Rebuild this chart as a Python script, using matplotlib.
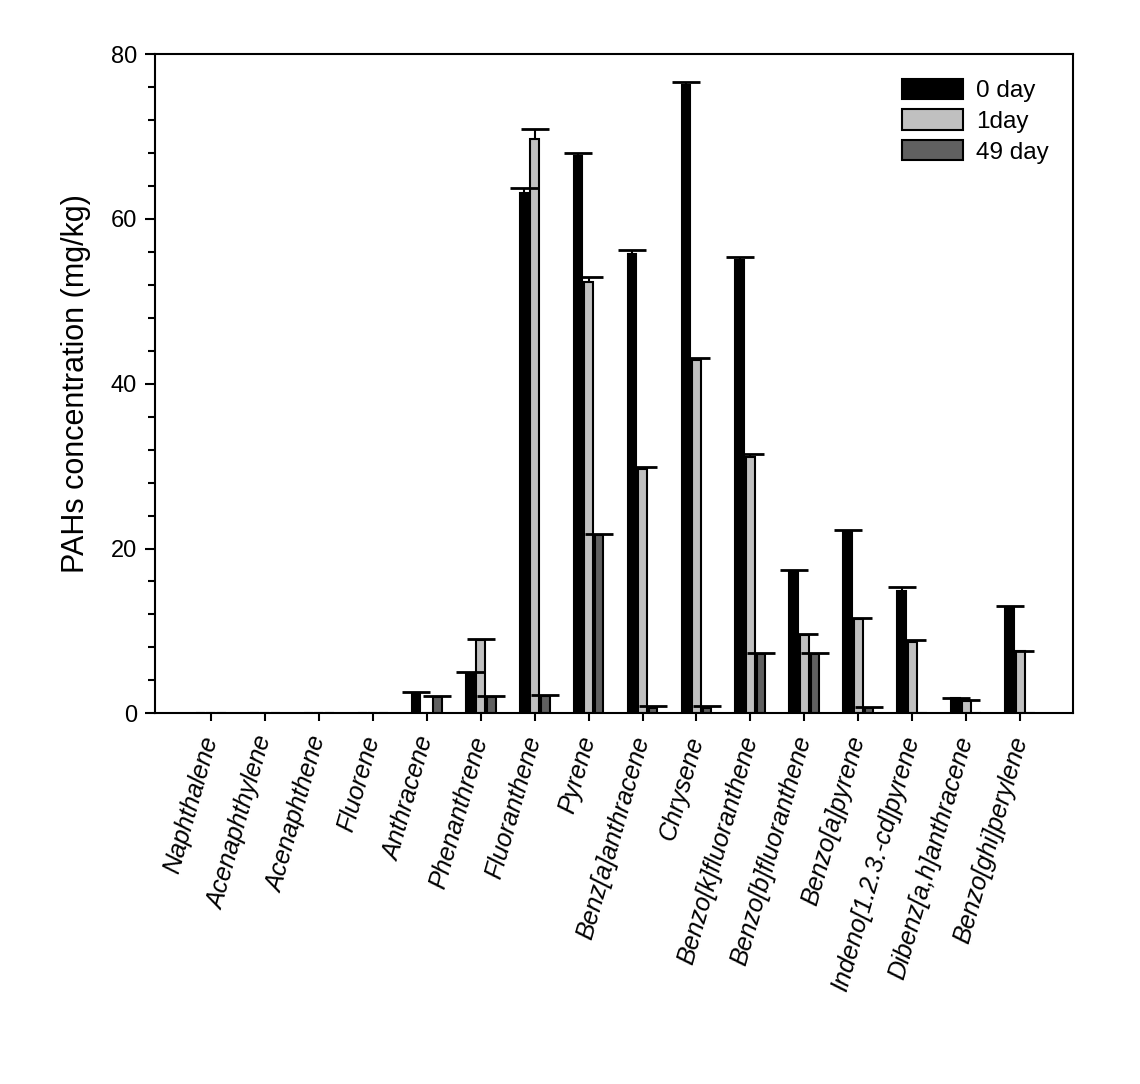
import numpy as np
import matplotlib
matplotlib.use("Agg")
import matplotlib.pyplot as plt
from matplotlib.ticker import MultipleLocator

plt.rcParams['font.family'] = ['Liberation Sans', 'DejaVu Sans']

# PAH compounds on the x axis
compounds = ["Naphthalene", "Acenaphthylene", "Acenaphthene", "Fluorene",
             "Anthracene", "Phenanthrene", "Fluoranthene", "Pyrene",
             "Benz[a]anthracene", "Chrysene", "Benzo[k]fluoranthene",
             "Benzo[b]fluoranthene", "Benzo[a]pyrene", "Indeno[1.2.3.-cd]pyrene",
             "Dibenz[a,h]anthracene", "Benzo[ghi]perylene"]

# concentrations (mg/kg) and upper error
day0 = [0, 0, 0, 0, 2.4, 4.8, 63.1, 67.6, 55.7, 76.3, 55.0, 17.3, 22.0, 14.8, 1.8, 12.9]
err0 = [0, 0, 0, 0, 0.15, 0.2, 0.7, 0.4, 0.5, 0.3, 0.4, 0.1, 0.3, 0.5, 0.1, 0.1]
day1 = [0, 0, 0, 0, 0, 8.9, 69.7, 52.3, 29.6, 42.9, 31.1, 9.5, 11.4, 8.7, 1.5, 7.5]
err1 = [0, 0, 0, 0, 0, 0.15, 1.2, 0.6, 0.3, 0.2, 0.4, 0.15, 0.2, 0.15, 0.1, 0.1]
day49 = [0, 0, 0, 0, 2.0, 2.0, 2.05, 21.6, 0.7, 0.7, 7.2, 7.2, 0.65, 0, 0, 0]
err49 = [0, 0, 0, 0, 0.15, 0.15, 0.15, 0.1, 0.2, 0.2, 0.15, 0.15, 0.15, 0, 0, 0]

series = [("0 day", day0, err0, "#000000"),
          ("1day", day1, err1, "#c0c0c0"),
          ("49 day", day49, err49, "#606060")]

fig = plt.figure(figsize=(11.4, 10.84), dpi=100)
ax = fig.add_axes([0.136, 0.342, 0.805, 0.608])

x = np.arange(len(compounds))
step = 0.195
width = 0.165

for i, (name, vals, errs, col) in enumerate(series):
    vals = np.array(vals, dtype=float)
    errs = np.array(errs, dtype=float)
    pos = x + (i - 1) * step
    ax.bar(pos, vals, width, color=col, edgecolor="black", linewidth=1.5, label=name, zorder=2)
    m = vals > 0
    eb = ax.errorbar(pos[m], vals[m], yerr=[np.zeros(m.sum()), errs[m]], fmt="none",
                     ecolor="black", elinewidth=1.5, capsize=10, capthick=2, zorder=3)
    # only the upper cap is drawn
    eb[1][0].set_visible(False)

ax.set_xlim(-1.03, 15.97)
ax.set_ylim(0, 80)
ax.yaxis.set_major_locator(MultipleLocator(20))
ax.yaxis.set_minor_locator(MultipleLocator(4))
ax.set_xticks(x)
ax.set_xticklabels(compounds, rotation=74, ha="right", va="center",
                   rotation_mode="anchor", fontstyle="italic", fontsize=18)
ax.tick_params(axis="x", direction="out", length=6, width=1.5, pad=11)
ax.tick_params(axis="y", which="major", direction="out", length=7, width=1.5, labelsize=17, pad=6)
ax.tick_params(axis="y", which="minor", direction="out", length=5, width=1.5)
for s in ax.spines.values():
    s.set_linewidth(1.5)

ax.set_ylabel("PAHs concentration (mg/kg)", fontsize=22, labelpad=14)

ax.legend(loc="upper right", bbox_to_anchor=(0.99, 0.985), frameon=False, fontsize=17.5,
          handlelength=2.5, handleheight=0.9, labelspacing=0.3, handletextpad=0.55,
          borderaxespad=0.2)

fig.savefig("out.png", dpi=100)
